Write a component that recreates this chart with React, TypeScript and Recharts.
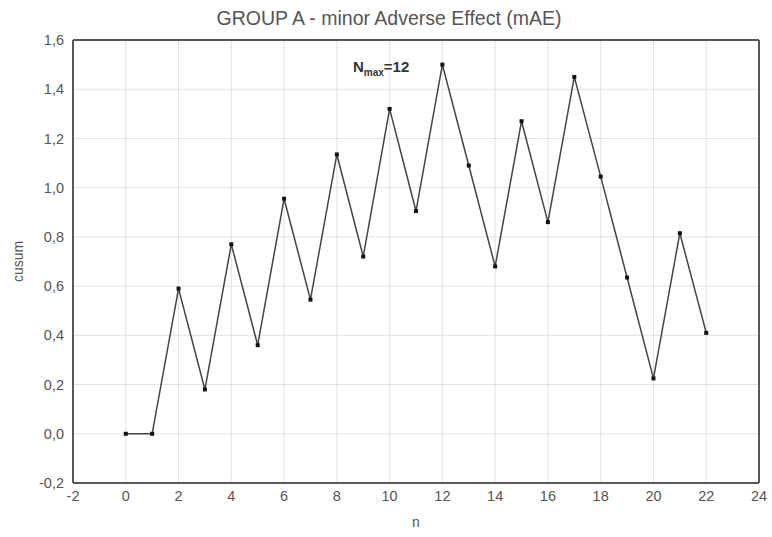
import { LineChart, Line, XAxis, YAxis, CartesianGrid, ReferenceLine } from 'recharts';

const nValues = [0, 1, 2, 3, 4, 5, 6, 7, 8, 9, 10, 11, 12, 13, 14, 15, 16, 17, 18, 19, 20, 21, 22];
const cusumValues = [0, 0, 0.59, 0.18, 0.77, 0.36, 0.955, 0.545, 1.135, 0.72, 1.32, 0.905, 1.5, 1.09, 0.68, 1.27, 0.86, 1.45, 1.045, 0.635, 0.225, 0.815, 0.41];
const xTicks = [-2, 0, 2, 4, 6, 8, 10, 12, 14, 16, 18, 20, 22, 24];
const yTicks = [-0.2, 0, 0.2, 0.4, 0.6, 0.8, 1.0, 1.2, 1.4, 1.6];

const FONT = '"Liberation Sans", Arial, sans-serif';
const TICK = { fontSize: 14.5, fill: '#555', fontFamily: FONT };
const FRAME = '#585858';

const data = nValues.map((n, i) => ({ n, cusum: cusumValues[i] }));

const fmt = (v: number) => v.toFixed(1).replace('.', ',');

// small square markers like the original
function SquareDot(props: any) {
  const { cx, cy } = props;
  if (cx == null || cy == null) return null;
  return <rect x={cx - 2} y={cy - 2} width={4} height={4} fill="#111" />;
}

export default function App() {
  return (
    <div style={{ position: 'absolute', left: 0, top: 0, width: 772, height: 537, background: '#fff', fontFamily: FONT }}>
      <div style={{ position: 'absolute', left: 0, width: 778, top: 7, textAlign: 'center', fontSize: 19.5, color: '#555' }}>
        GROUP A - minor Adverse Effect (mAE)
      </div>
      <div style={{ position: 'absolute', left: 353, top: 59, fontSize: 15, lineHeight: 1, fontWeight: 'bold', color: '#333', zIndex: 2 }}>
        N<sub style={{ fontSize: 10, lineHeight: 0 }}>max</sub>=12
      </div>
      <LineChart width={772} height={537} data={data} margin={{ top: 40, right: 13, bottom: 0, left: 0 }}>
        <CartesianGrid stroke="#e2e2e2" />
        <XAxis
          dataKey="n"
          type="number"
          domain={[-2, 24]}
          ticks={xTicks}
          tick={TICK}
          tickLine={false}
          axisLine={{ stroke: FRAME, strokeWidth: 2 }}
          height={54}
          label={{ value: 'n', position: 'insideBottom', offset: 10, style: { fontSize: 14, fill: '#555', fontFamily: FONT } }}
        />
        <YAxis
          type="number"
          domain={[-0.2, 1.6]}
          ticks={yTicks}
          tickFormatter={fmt}
          tick={TICK}
          tickLine={false}
          tickMargin={3}
          width={73}
          axisLine={{ stroke: FRAME, strokeWidth: 2 }}
          label={{ value: 'cusum', angle: -90, position: 'insideLeft', offset: 18, style: { textAnchor: 'middle', fontSize: 14, fill: '#555', fontFamily: FONT } }}
        />
        {/* closing frame on top and right */}
        <ReferenceLine y={1.6} stroke={FRAME} strokeWidth={2} />
        <ReferenceLine x={24} stroke={FRAME} strokeWidth={2} />
        <Line
          type="linear"
          dataKey="cusum"
          stroke="#444"
          strokeWidth={1.5}
          dot={<SquareDot />}
          activeDot={false}
          isAnimationActive={false}
        />
      </LineChart>
    </div>
  );
}
